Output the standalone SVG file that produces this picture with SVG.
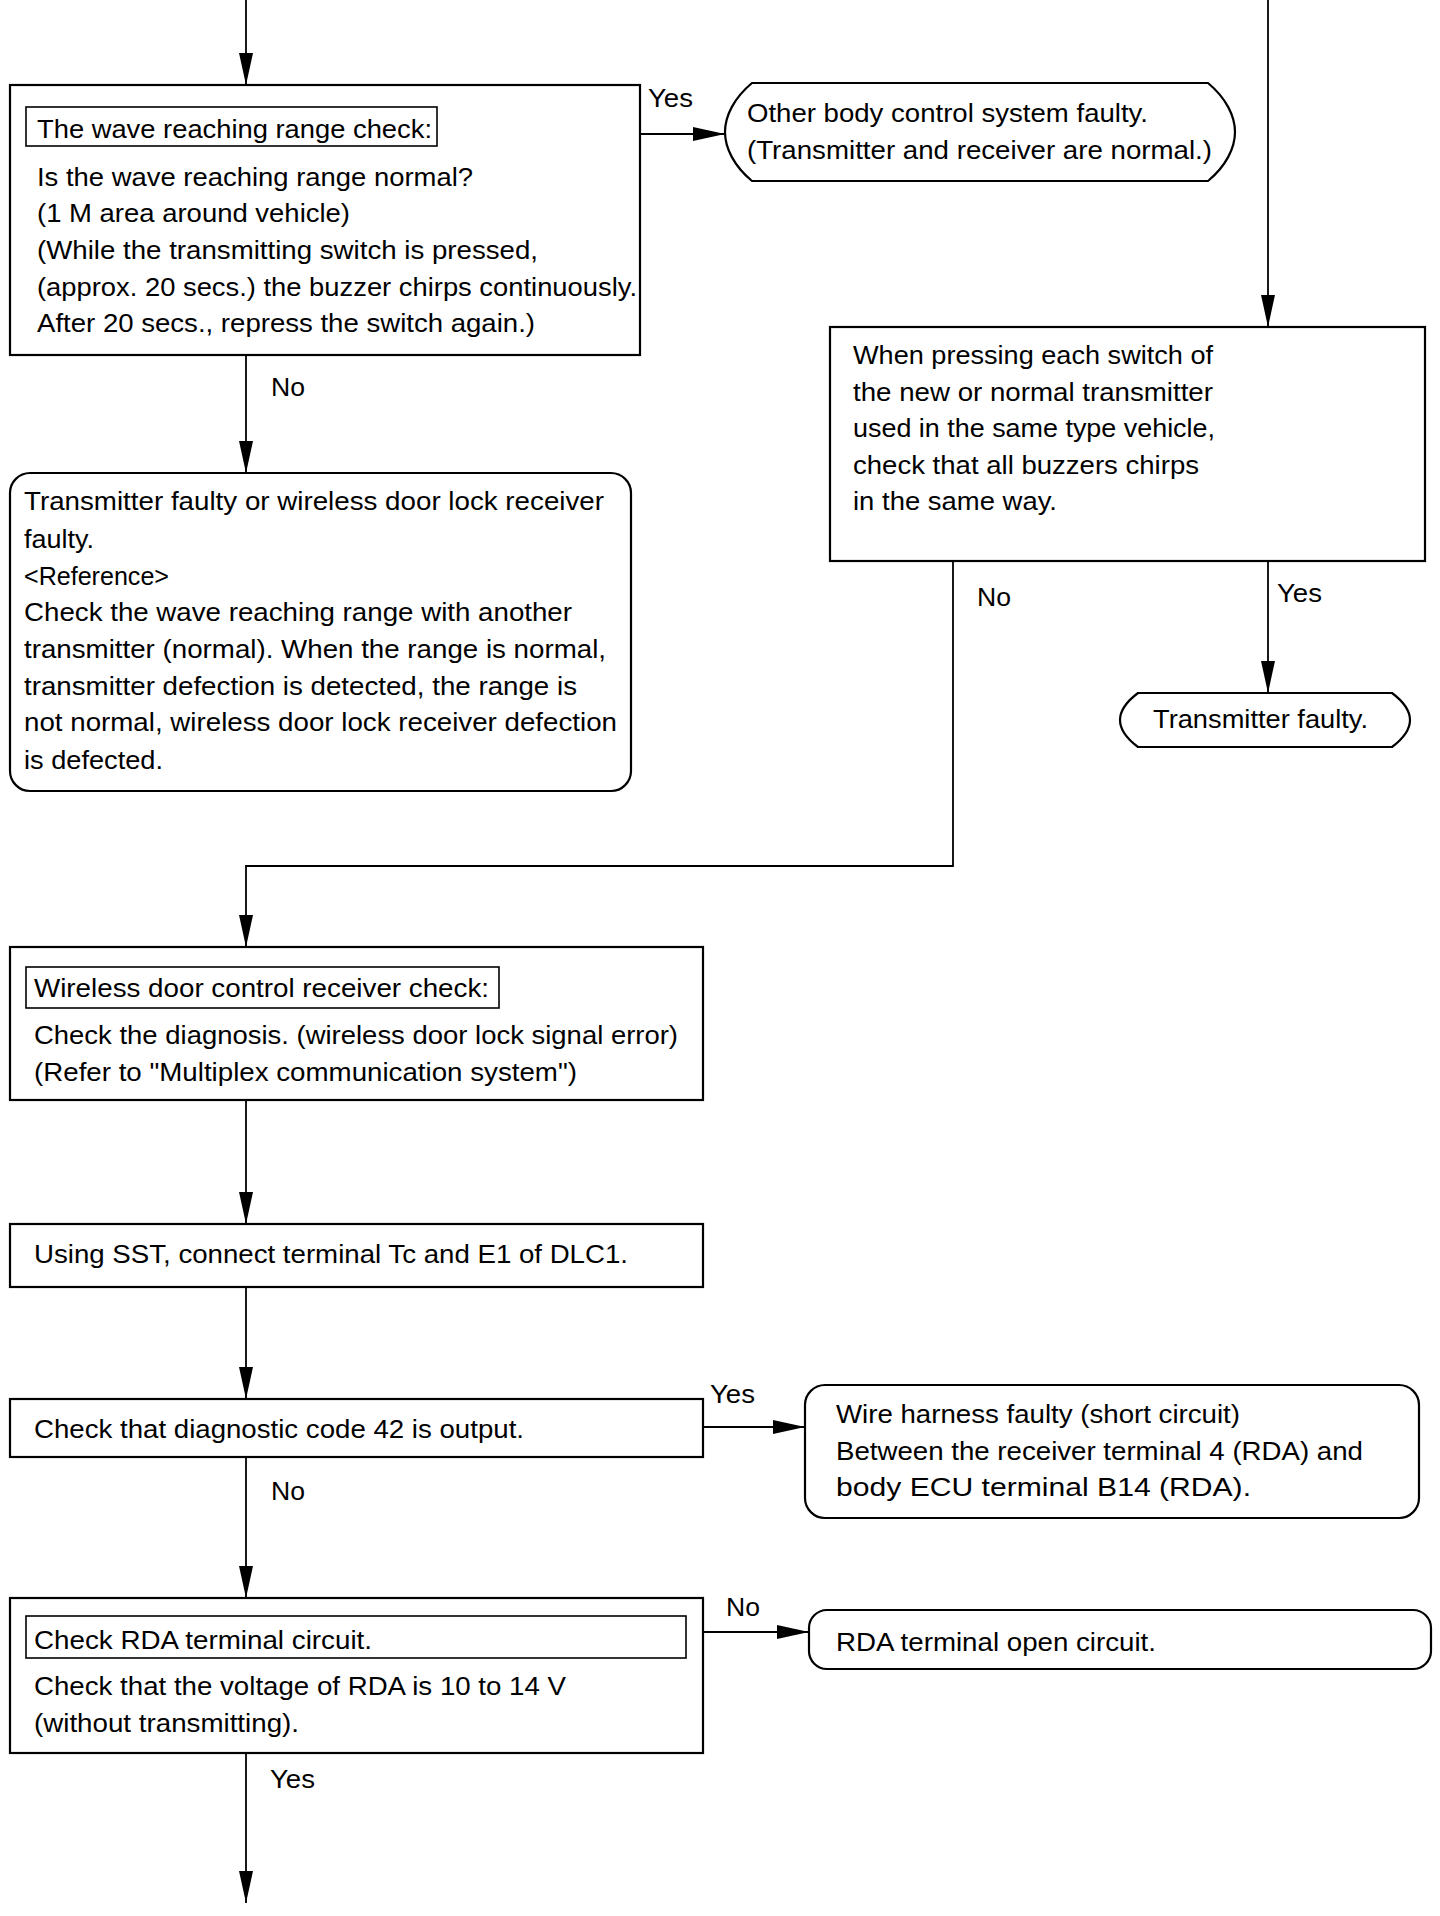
<svg xmlns="http://www.w3.org/2000/svg" width="1440" height="1916" viewBox="0 0 1440 1916">
<style>
text{font-family:"Liberation Sans",Arial,Helvetica,sans-serif;font-size:26px;fill:#000}
.box{fill:#fff;stroke:#000;stroke-width:2.2}
.tbox{fill:none;stroke:#000;stroke-width:1.6}
.ln{fill:none;stroke:#000;stroke-width:1.8}
</style>
<defs>
<marker id="ah" markerUnits="userSpaceOnUse" markerWidth="32" markerHeight="14" viewBox="0 0 32 14" refX="32" refY="7" orient="auto">
<path d="M0,0 L32,7 L0,14 Z" fill="#000"/>
</marker>
</defs>
<rect width="1440" height="1916" fill="#fff"/>

<g id="connectors">
<line class="ln" x1="246" y1="0" x2="246" y2="85" marker-end="url(#ah)"/>
<line class="ln" x1="640" y1="134" x2="725" y2="134" marker-end="url(#ah)"/>
<line class="ln" x1="1268" y1="0" x2="1268" y2="327" marker-end="url(#ah)"/>
<line class="ln" x1="246" y1="355" x2="246" y2="473" marker-end="url(#ah)"/>
<polyline class="ln" points="953,561 953,866 246,866 246,947" marker-end="url(#ah)"/>
<line class="ln" x1="1268" y1="561" x2="1268" y2="693" marker-end="url(#ah)"/>
<line class="ln" x1="246" y1="1100" x2="246" y2="1224" marker-end="url(#ah)"/>
<line class="ln" x1="246" y1="1287" x2="246" y2="1399" marker-end="url(#ah)"/>
<line class="ln" x1="703" y1="1427" x2="805" y2="1427" marker-end="url(#ah)"/>
<line class="ln" x1="246" y1="1457" x2="246" y2="1598" marker-end="url(#ah)"/>
<line class="ln" x1="703" y1="1632" x2="809" y2="1632" marker-end="url(#ah)"/>
<line class="ln" x1="246" y1="1753" x2="246" y2="1903" marker-end="url(#ah)"/>
<text x="648" y="107" textLength="45" lengthAdjust="spacingAndGlyphs">Yes</text>
<text x="271" y="396" textLength="34" lengthAdjust="spacingAndGlyphs">No</text>
<text x="977" y="606" textLength="34" lengthAdjust="spacingAndGlyphs">No</text>
<text x="1277" y="602" textLength="45" lengthAdjust="spacingAndGlyphs">Yes</text>
<text x="710" y="1403" textLength="45" lengthAdjust="spacingAndGlyphs">Yes</text>
<text x="271" y="1500" textLength="34" lengthAdjust="spacingAndGlyphs">No</text>
<text x="726" y="1616" textLength="34" lengthAdjust="spacingAndGlyphs">No</text>
<text x="270" y="1788" textLength="45" lengthAdjust="spacingAndGlyphs">Yes</text>
</g>

<g id="wave-range-check">
<rect class="box" x="10" y="85" width="630" height="270"/>
<rect class="tbox" x="26" y="107" width="411" height="39"/>
<text x="37" y="138" textLength="395" lengthAdjust="spacingAndGlyphs">The wave reaching range check:</text>
<text x="37" y="186" textLength="436" lengthAdjust="spacingAndGlyphs">Is the wave reaching range normal?</text>
<text x="37" y="222" textLength="313" lengthAdjust="spacingAndGlyphs">(1 M area around vehicle)</text>
<text x="37" y="259" textLength="501" lengthAdjust="spacingAndGlyphs">(While the transmitting switch is pressed,</text>
<text x="37" y="296" textLength="600" lengthAdjust="spacingAndGlyphs">(approx. 20 secs.) the buzzer chirps continuously.</text>
<text x="37" y="332" textLength="498" lengthAdjust="spacingAndGlyphs">After 20 secs., repress the switch again.)</text>
</g>

<g id="other-body-faulty">
<path class="box" d="M752,83 H1208 C1226,98 1235,116 1235,132 C1235,148 1226,166 1208,181 H752 C734,166 725,148 725,132 C725,116 734,98 752,83 Z"/>
<text x="747" y="122" textLength="401" lengthAdjust="spacingAndGlyphs">Other body control system faulty.</text>
<text x="747" y="159" textLength="465" lengthAdjust="spacingAndGlyphs">(Transmitter and receiver are normal.)</text>
</g>

<g id="buzzer-check">
<rect class="box" x="830" y="327" width="595" height="234"/>
<text x="853" y="364" textLength="360" lengthAdjust="spacingAndGlyphs">When pressing each switch of</text>
<text x="853" y="401" textLength="360" lengthAdjust="spacingAndGlyphs">the new or normal transmitter</text>
<text x="853" y="437" textLength="362" lengthAdjust="spacingAndGlyphs">used in the same type vehicle,</text>
<text x="853" y="474" textLength="346" lengthAdjust="spacingAndGlyphs">check that all buzzers chirps</text>
<text x="853" y="510" textLength="204" lengthAdjust="spacingAndGlyphs">in the same way.</text>
</g>

<g id="transmitter-or-receiver-faulty">
<rect class="box" x="10" y="473" width="621" height="318" rx="20"/>
<text x="24" y="510" textLength="580" lengthAdjust="spacingAndGlyphs">Transmitter faulty or wireless door lock receiver</text>
<text x="24" y="548" textLength="70" lengthAdjust="spacingAndGlyphs">faulty.</text>
<text x="24" y="585" textLength="145" lengthAdjust="spacingAndGlyphs">&lt;Reference&gt;</text>
<text x="24" y="621" textLength="548" lengthAdjust="spacingAndGlyphs">Check the wave reaching range with another</text>
<text x="24" y="658" textLength="582" lengthAdjust="spacingAndGlyphs">transmitter (normal). When the range is normal,</text>
<text x="24" y="695" textLength="553" lengthAdjust="spacingAndGlyphs">transmitter defection is detected, the range is</text>
<text x="24" y="731" textLength="593" lengthAdjust="spacingAndGlyphs">not normal, wireless door lock receiver defection</text>
<text x="24" y="769" textLength="139" lengthAdjust="spacingAndGlyphs">is defected.</text>
</g>

<g id="transmitter-faulty">
<path class="box" d="M1138,693 H1392 C1404,702 1410,711 1410,720 C1410,729 1404,738 1392,747 H1138 C1126,738 1120,729 1120,720 C1120,711 1126,702 1138,693 Z"/>
<text x="1153" y="728" textLength="215" lengthAdjust="spacingAndGlyphs">Transmitter faulty.</text>
</g>

<g id="receiver-check">
<rect class="box" x="10" y="947" width="693" height="153"/>
<rect class="tbox" x="26" y="967" width="473" height="41"/>
<text x="34" y="997" textLength="455" lengthAdjust="spacingAndGlyphs">Wireless door control receiver check:</text>
<text x="34" y="1044" textLength="644" lengthAdjust="spacingAndGlyphs">Check the diagnosis. (wireless door lock signal error)</text>
<text x="34" y="1081" textLength="543" lengthAdjust="spacingAndGlyphs">(Refer to "Multiplex communication system")</text>
</g>

<g id="connect-terminal">
<rect class="box" x="10" y="1224" width="693" height="63"/>
<text x="34" y="1263" textLength="594" lengthAdjust="spacingAndGlyphs">Using SST, connect terminal Tc and E1 of DLC1.</text>
</g>

<g id="code-42-check">
<rect class="box" x="10" y="1399" width="693" height="58"/>
<text x="34" y="1438" textLength="490" lengthAdjust="spacingAndGlyphs">Check that diagnostic code 42 is output.</text>
</g>

<g id="wire-harness-faulty">
<rect class="box" x="805" y="1385" width="614" height="133" rx="20"/>
<text x="836" y="1423" textLength="404" lengthAdjust="spacingAndGlyphs">Wire harness faulty (short circuit)</text>
<text x="836" y="1460" textLength="527" lengthAdjust="spacingAndGlyphs">Between the receiver terminal 4 (RDA) and</text>
<text x="836" y="1496" textLength="415" lengthAdjust="spacingAndGlyphs">body ECU terminal B14 (RDA).</text>
</g>

<g id="rda-circuit-check">
<rect class="box" x="10" y="1598" width="693" height="155"/>
<rect class="tbox" x="26" y="1616" width="660" height="42"/>
<text x="34" y="1649" textLength="338" lengthAdjust="spacingAndGlyphs">Check RDA terminal circuit.</text>
<text x="34" y="1695" textLength="532" lengthAdjust="spacingAndGlyphs">Check that the voltage of RDA is 10 to 14 V</text>
<text x="34" y="1732" textLength="265" lengthAdjust="spacingAndGlyphs">(without transmitting).</text>
</g>

<g id="rda-open-circuit">
<rect class="box" x="809" y="1610" width="622" height="59" rx="18"/>
<text x="836" y="1651" textLength="320" lengthAdjust="spacingAndGlyphs">RDA terminal open circuit.</text>
</g>
</svg>
